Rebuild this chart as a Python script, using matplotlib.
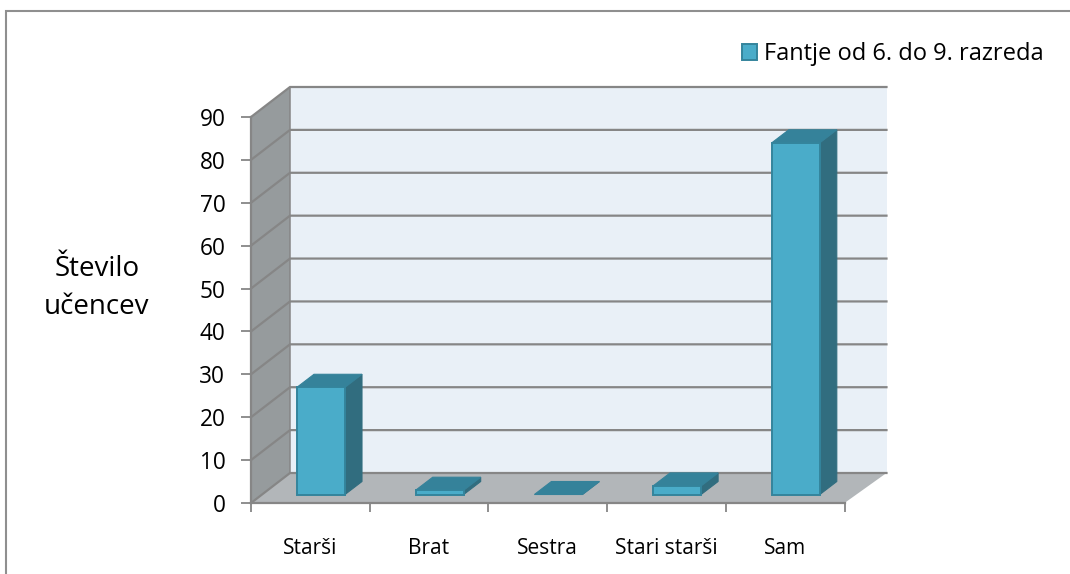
#!/usr/bin/env python3
"""Pseudo-3D column chart: Število učencev by category."""

import matplotlib
matplotlib.use("Agg")
import matplotlib.pyplot as plt
from matplotlib.lines import Line2D
from matplotlib.patches import Polygon, Rectangle

CATEGORIES = ["Starši", "Brat", "Sestra", "Stari starši", "Sam"]
VALUES = [25, 1, 0, 2, 82]
YTICKS = [0, 10, 20, 30, 40, 50, 60, 70, 80, 90]
SERIES = "Fantje od 6. do 9. razreda"

W, H = 1070, 574
X0, X1 = 251, 844.5    # front floor edge, px
Y0, Y90 = 503, 117     # front axis, px
DEPTH_X, DEPTH_Y = 39, 30
WALL_EXTRA = 3         # back wall runs a little past the floor corner

PX_X = (X1 - X0) / len(CATEGORIES)
PX_Y = (Y0 - Y90) / 90
DX = DEPTH_X / PX_X
DY = DEPTH_Y / PX_Y

plt.rcParams["font.family"] = ["Open Sans", "DejaVu Sans"]

fig = plt.figure(figsize=(W / 100, H / 100), dpi=100, facecolor="white")

# only the top and left edges of the chart frame are in the picture
FRAME = "#8f8f8f"
fig.add_artist(Line2D([6 / W, 6 / W, 1], [0, 1 - 11 / H, 1 - 11 / H],
                      transform=fig.transFigure, color=FRAME, lw=1.5,
                      solid_joinstyle="miter"))

ax = fig.add_axes([X0 / W, (H - Y0) / H, (X1 + DEPTH_X + WALL_EXTRA - X0) / W,
                   (Y0 - Y90 + DEPTH_Y) / H])
n = len(CATEGORIES)
BACK_R = n + DX + WALL_EXTRA / PX_X
ax.set_xlim(0, BACK_R)
ax.set_ylim(0, 90 + DY)
ax.patch.set_visible(False)

GRID = "#868686"
LW = 1.6

# back wall, side wall, floor
ax.add_patch(Polygon([(DX, DY), (BACK_R, DY), (BACK_R, 90 + DY), (DX, 90 + DY)],
                     facecolor="#e9f0f7", edgecolor="none", zorder=1))
ax.add_patch(Polygon([(0, 0), (DX, DY), (DX, 90 + DY), (0, 90)],
                     facecolor="#969b9d", edgecolor="none", zorder=1))
ax.add_patch(Polygon([(0, 0), (n, 0), (BACK_R, DY), (DX, DY)],
                     facecolor="#b2b6b9", edgecolor="none", zorder=1))

# gridlines, running along the side wall and across the back wall
for t in YTICKS:
    ax.plot([0, DX, BACK_R], [t, t + DY, t + DY], color=GRID, lw=LW,
            solid_joinstyle="miter", zorder=2, clip_on=False)
ax.plot([DX, DX], [DY, 90 + DY], color=GRID, lw=1.1, zorder=2)

# columns
BAR_W = 48 / PX_X
BAR_OFF_X = 46 / PX_X
BAR_OFF_Y = 8.5 / PX_Y
BAR_DX = 17 / PX_X
BAR_DY = 13 / PX_Y
FRONT, SIDE, TOP, EDGE = "#4aacc9", "#316d7f", "#35829a", "#34849c"
for i, v in enumerate(VALUES):
    xl = i + BAR_OFF_X
    xr = xl + BAR_W
    yb = BAR_OFF_Y
    yt = yb + v
    ax.add_patch(Polygon([(xr, yb), (xr + BAR_DX, yb + BAR_DY),
                          (xr + BAR_DX, yt + BAR_DY), (xr, yt)],
                         facecolor=SIDE, edgecolor=SIDE, lw=0.8, zorder=3))
    ax.add_patch(Polygon([(xl, yt), (xr, yt), (xr + BAR_DX, yt + BAR_DY),
                          (xl + BAR_DX, yt + BAR_DY)],
                         facecolor=TOP, edgecolor=TOP, lw=0.8, zorder=3))
    if v > 0:
        ax.add_patch(Rectangle((xl, yb), BAR_W, v, facecolor=FRONT,
                               edgecolor=EDGE, lw=1.4, zorder=4))

# axes, ticks and labels
for side in ("top", "right"):
    ax.spines[side].set_visible(False)
ax.spines["left"].set_bounds(0, 90)
ax.spines["bottom"].set_bounds(0, n)
for side in ("left", "bottom"):
    ax.spines[side].set_color(GRID)
    ax.spines[side].set_linewidth(LW)
    ax.spines[side].set_zorder(5)

ax.set_yticks(YTICKS)
ax.set_yticklabels([str(t) for t in YTICKS], fontsize=16.3, color="black")
ax.tick_params(axis="y", length=7, width=1.3, color=GRID, pad=11.5)

ax.set_xticks(range(n + 1))
ax.set_xticklabels([])
ax.set_xticks([i + 0.5 for i in range(n)], minor=True)
ax.set_xticklabels(CATEGORIES, minor=True, fontsize=15, color="black")
ax.tick_params(axis="x", which="major", length=6.5, width=1.3, color=GRID)
ax.tick_params(axis="x", which="minor", length=0, pad=25.5)

# y axis title and legend, placed in figure pixels
fig.text(97 / W, 1 - 288 / H, "Število\nučencev", ha="center", va="center",
         fontsize=20, linespacing=1.45, color="black")
fig.legend(handles=[Rectangle((0, 0), 1, 1, facecolor=FRONT, edgecolor=EDGE, lw=1.4)],
           labels=[SERIES], loc="center right", bbox_to_anchor=(1044 / W, 1 - 54 / H),
           frameon=False, fontsize=17, handlelength=0.66, handleheight=0.66,
           handletextpad=0.3, borderpad=0, borderaxespad=0)

fig.savefig("out.png", dpi=100)
